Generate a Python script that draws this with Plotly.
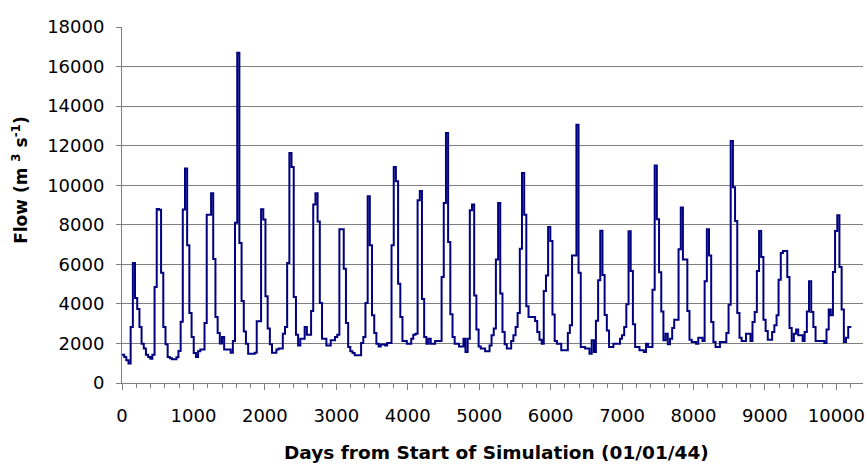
import pandas as pd
import plotly.graph_objects as go

# Monthly mean flow (m3/s), one list per calendar year, Jan..Dec
flow_1944 = [1430, 1310, 1150, 980, 2830, 6070, 4300, 3740, 2830, 1990, 1740, 1430]
flow_1945 = [1310, 1230, 1430, 4850, 8800, 8760, 5580, 2830, 1960, 1310, 1250, 1200]
flow_1946 = [1200, 1300, 1620, 3100, 8770, 10840, 6960, 3540, 2330, 1520, 1310, 1600]
flow_1947 = [1700, 1700, 3030, 8510, 8510, 9600, 6270, 3340, 2530, 2000, 2330, 1700]
flow_1948 = [1700, 1700, 1530, 2120, 8100, 16700, 7080, 4150, 2610, 1990, 1480, 1480]
flow_1949 = [1480, 1530, 3120, 3120, 8780, 8270, 4380, 2750, 1960, 1530, 1530, 1690]
flow_1950 = [1740, 1740, 2490, 2830, 6070, 11630, 10920, 4350, 2440, 1900, 2240, 2240]
flow_1951 = [2830, 2440, 2440, 3640, 9020, 9600, 8170, 4040, 2240, 2240, 1900, 1900]
flow_1952 = [2160, 2160, 2330, 2440, 7770, 7770, 5780, 3030, 1820, 1600, 1520, 1400]
flow_1953 = [1400, 1400, 2020, 2330, 4040, 9440, 6960, 3420, 2530, 1990, 1850, 1950]
flow_1954 = [1950, 1900, 2020, 2020, 6960, 10920, 10200, 5020, 3340, 2120, 2120, 1990]
flow_1955 = [1990, 2240, 2440, 2490, 9240, 9710, 4250, 2330, 1990, 2240, 1990, 1990]
flow_1956 = [2120, 2120, 2120, 5360, 9100, 12640, 7130, 3470, 2330, 1990, 1990, 1850]
flow_1957 = [1850, 2240, 1570, 2240, 8730, 9020, 4430, 2700, 1850, 1740, 1740, 1600]
flow_1958 = [1600, 1900, 2410, 2750, 6240, 9100, 4520, 2580, 1960, 1740, 1740, 2120]
flow_1959 = [2410, 2830, 3540, 6790, 10620, 8510, 3880, 3340, 3340, 3340, 3130, 2580]
flow_1960 = [2190, 1990, 4650, 5440, 7890, 7180, 3460, 2120, 1990, 1990, 1650, 1650]
flow_1961 = [1650, 2530, 2920, 6450, 6450, 13060, 5580, 1820, 1820, 1740, 1740, 1480]
flow_1962 = [2160, 1570, 3150, 5190, 7700, 5460, 3440, 2660, 1820, 1820, 1990, 1990]
flow_1963 = [1990, 2240, 2410, 2830, 3980, 7670, 5660, 2970, 1820, 1820, 1650, 1650]
flow_1964 = [1570, 1990, 1820, 1820, 4720, 11000, 8280, 5600, 3620, 2160, 2490, 1960]
flow_1965 = [2240, 2780, 3200, 3200, 6760, 8870, 6250, 6250, 3640, 2190, 2070, 2070]
flow_1966 = [1990, 2290, 2290, 2120, 5140, 7770, 6450, 3085, 2070, 1820, 1820, 2070]
flow_1967 = [2070, 2070, 2530, 3960, 12240, 9900, 8190, 3540, 2290, 2120, 2120, 2490]
flow_1968 = [2490, 2120, 3085, 3590, 5660, 7690, 6370, 3200, 2630, 2190, 2190, 2580]
flow_1969 = [2920, 3420, 5220, 6570, 6670, 6670, 5360, 2780, 2120, 2490, 2700, 2410]
flow_1970 = [2410, 2120, 2580, 3620, 5140, 3590, 2830, 2120, 2120, 2120, 2120, 2020]
flow_1971 = [2700, 3710, 3420, 5610, 7690, 8480, 5870, 3710, 2070, 2290, 2830]

simulation_start = "1944-01-01"
simulation_end = "1971-12-14"

x_ticks = [0, 1000, 2000, 3000, 4000, 5000, 6000, 7000, 8000, 9000, 10000]
y_ticks = [0, 2000, 4000, 6000, 8000, 10000, 12000, 14000, 16000, 18000]

years = [flow_1944, flow_1945, flow_1946, flow_1947, flow_1948, flow_1949, flow_1950,
         flow_1951, flow_1952, flow_1953, flow_1954, flow_1955, flow_1956, flow_1957,
         flow_1958, flow_1959, flow_1960, flow_1961, flow_1962, flow_1963, flow_1964,
         flow_1965, flow_1966, flow_1967, flow_1968, flow_1969, flow_1970, flow_1971]
flows = [v for yr in years for v in yr]

origin = pd.Timestamp(simulation_start)
month_starts = pd.date_range(simulation_start, periods=len(flows), freq="MS")
days = [(d - origin).days for d in month_starts]
end_day = (pd.Timestamp(simulation_end) - origin).days

# hold the last monthly value until the end of the run
x_vals = days + [end_day]
y_vals = flows + [flows[-1]]

FONT = "DejaVu Sans"
AXIS_GREY = "#7f7f7f"

fig = go.Figure()
fig.add_trace(go.Scatter(
    x=x_vals, y=y_vals, mode="lines",
    line=dict(color="#000080", width=2, shape="hv"),
    showlegend=False, hoverinfo="skip",
))

fig.update_layout(
    width=865, height=466,
    margin=dict(l=122, r=0, t=27, b=83),
    paper_bgcolor="white", plot_bgcolor="white",
    font=dict(family=FONT, color="black"),
    xaxis=dict(
        range=[0, 10373], tickvals=x_ticks, ticktext=[str(t) for t in x_ticks],
        showgrid=False, zeroline=False,
        showline=True, linecolor=AXIS_GREY, linewidth=1,
        ticks="outside", ticklen=6, tickcolor=AXIS_GREY,
        minor=dict(dtick=200, tick0=0, ticks="outside", ticklen=4, tickcolor=AXIS_GREY, showgrid=False),
        tickfont=dict(family=FONT, size=18, color="black"),
        ticklabeloverflow="allow", ticklabelstandoff=10,
    ),
    yaxis=dict(
        range=[0, 18000], tickvals=y_ticks, ticktext=[str(t) for t in y_ticks],
        showgrid=True, gridcolor=AXIS_GREY, gridwidth=1, zeroline=False,
        showline=True, linecolor=AXIS_GREY, linewidth=1,
        ticks="outside", ticklen=5, tickcolor=AXIS_GREY,
        tickfont=dict(family=FONT, size=18, color="black"),
        ticklabelstandoff=8,
    ),
    annotations=[
        dict(text="<b>Days from Start of Simulation (01/01/44)</b>",
             xref="paper", yref="paper", x=0.506, y=-0.196,
             xanchor="center", yanchor="middle", showarrow=False,
             font=dict(family=FONT, size=18.5, color="black")),
        dict(text="<b>Flow (m <sup>3</sup> s<sup>-1</sup>)</b>",
             xref="paper", yref="paper", x=-0.138, y=0.57, textangle=-90,
             xanchor="center", yanchor="middle", showarrow=False,
             font=dict(family=FONT, size=17, color="black")),
    ],
)

fig.write_html("out.html")
